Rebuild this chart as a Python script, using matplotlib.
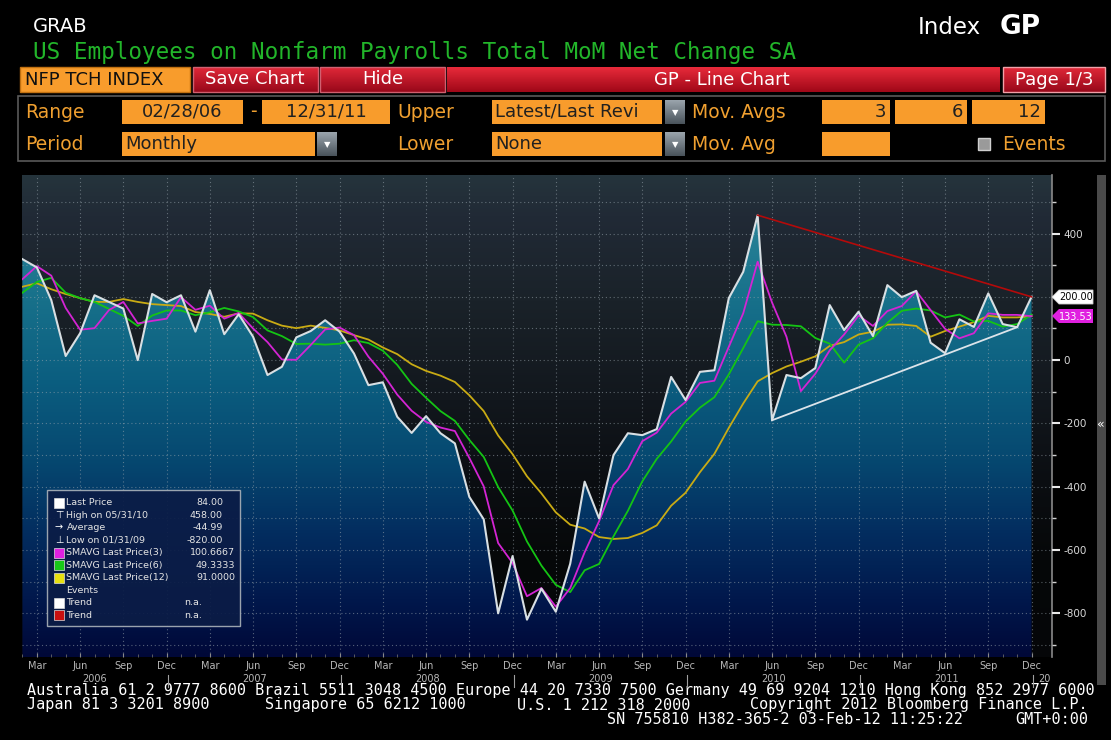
import numpy as np
import pandas as pd
import matplotlib
matplotlib.use("Agg")
import matplotlib.pyplot as plt
from matplotlib.patches import Rectangle, Polygon
from matplotlib.colors import LinearSegmentedColormap
from matplotlib.ticker import FixedLocator, MultipleLocator, FuncFormatter

plt.rcParams["axes.unicode_minus"] = False

# ---------------- data ----------------
months = pd.date_range("2006-02-28", "2011-12-31", freq="ME")

payrolls = [319, 293, 190, 13, 85, 205, 184, 163, 0, 209, 183,
            205, 90, 221, 82, 145, 74, -47, -21, 72, 92, 126, 90,
            21, -79, -70, -179, -230, -177, -231, -263, -432, -503, -800, -619,
            -820, -722, -795, -643, -384, -500, -300, -231, -237, -218, -53, -126,
            -37, -32, 196, 279, 458, -190, -47, -57, -25, 174, 95, 153,
            76, 237, 199, 219, 55, 22, 129, 105, 211, 114, 104, 200]

sma3 = [256, 297, 267, 165, 96, 101, 158, 184, 116, 124, 131,
        199, 159, 172, 131, 149, 100, 57, 2, 1, 48, 97, 103,
        79, 11, -43, -109, -160, -195, -213, -224, -309, -399, -578, -641,
        -746, -720, -779, -720, -607, -509, -395, -344, -256, -229, -169, -132,
        -72, -65, 42, 148, 311, 182, 74, -98, -43, 31, 81, 141,
        108, 155, 171, 218, 158, 99, 69, 85, 148, 143, 143, 139]

sma6 = [213, 247, 260, 213, 196, 184, 162, 140, 108, 141, 157,
        157, 142, 151, 165, 154, 136, 94, 76, 51, 52, 49, 52,
        63, 54, 30, -15, -75, -119, -161, -192, -252, -306, -401, -475,
        -573, -649, -710, -733, -664, -644, -557, -476, -383, -312, -257, -194,
        -150, -117, -45, 38, 123, 112, 111, 107, 70, 52, -8, 49,
        69, 118, 156, 163, 157, 135, 144, 122, 124, 106, 114, 144]

sma12 = [232, 243, 224, 209, 196, 184, 184, 193, 184, 177, 174,
         171, 152, 146, 137, 148, 147, 126, 109, 101, 109, 102, 94,
         79, 65, 40, 19, -13, -34, -49, -69, -111, -161, -238, -297,
         -367, -421, -481, -520, -532, -559, -565, -562, -546, -522, -460, -419,
         -354, -296, -214, -137, -67, -41, -20, -5, 12, 45, 57, 81,
         90, 112, 113, 108, 74, 92, 106, 120, 140, 135, 135, 139]

trend_high_dates = ["2010-05-31", "2011-12-31"]
trend_high_vals = [458, 200]
trend_low_dates = ["2010-06-30", "2011-11-30"]
trend_low_vals = [-190, 104]

legend_labels = ["Last Price", "High on 05/31/10", "Average", "Low on 01/31/09",
                 "SMAVG Last Price(3)", "SMAVG Last Price(6)", "SMAVG Last Price(12)",
                 "Events", "Trend", "Trend"]
legend_values = ["84.00", "458.00", "-44.99", "-820.00", "100.6667", "49.3333",
                 "91.0000", "", "n.a.", "n.a."]
legend_colors = ["#ffffff", None, None, None, "#e020e0", "#18c818", "#e8e010",
                 None, "#ffffff", "#c81010"]
legend_symbols = [None, "\u22a4", "\u2192", "\u22a5", None, None, None, None, None, None]

last_price_label = "200.00"
last_sma3_label = "133.53"

# ---------------- figure ----------------
W, H = 1111, 740
fig = plt.figure(figsize=(W / 100, H / 100), dpi=100, facecolor="black")

NARROW = ["Liberation Sans Narrow", "DejaVu Sans"]
MONO = ["DejaVu Sans Mono"]

ax_bg = fig.add_axes([0, 0, 1, 1], zorder=0)
ax_bg.set_xlim(0, W)
ax_bg.set_ylim(H, 0)
ax_bg.axis("off")


def grad_rect(ax, x0, y0, x1, y1, ctop, cbot, edge=None):
    cm = LinearSegmentedColormap.from_list("g", [ctop, cbot])
    arr = np.linspace(0, 1, 32).reshape(-1, 1)
    ax.imshow(arr, cmap=cm, extent=[x0, x1, y1, y0], origin="upper",
              aspect="auto", interpolation="bilinear", zorder=1)
    if edge:
        ax.add_patch(Rectangle((x0, y0), x1 - x0, y1 - y0, fill=False,
                               edgecolor=edge, lw=1, zorder=2))


# header
ax_bg.text(33, 27, "GRAB", color="white", fontsize=14, family=NARROW, va="center")
ax_bg.text(918, 27, "Index", color="white", fontsize=16.5, family=NARROW, va="center")
ax_bg.text(1000, 27, "GP", color="white", fontsize=19, family=NARROW,
           fontweight="bold", va="center")
ax_bg.text(33, 53, "US Employees on Nonfarm Payrolls Total MoM Net Change SA",
           color="#22b52a", fontsize=16.3, family=MONO, va="center")

# red toolbar
ORANGE = "#f89c2c"
ax_bg.add_patch(Rectangle((20, 67), 170, 25, facecolor=ORANGE, edgecolor="#c07010", zorder=2))
ax_bg.text(25, 80, "NFP TCH INDEX", color="#101010", fontsize=13, family=NARROW,
           va="center", zorder=3)
grad_rect(ax_bg, 193, 67, 318, 92, "#e02838", "#98081a", edge="#d06070")
grad_rect(ax_bg, 320, 67, 445, 92, "#e02838", "#98081a", edge="#d06070")
grad_rect(ax_bg, 447, 67, 1000, 92, "#e82a3a", "#a00818")
grad_rect(ax_bg, 1003, 67, 1105, 92, "#e02838", "#98081a", edge="#f0a0a8")
ax_bg.text(255, 79, "Save Chart", color="white", fontsize=13, family=NARROW,
           ha="center", va="center", zorder=3)
ax_bg.text(383, 79, "Hide", color="white", fontsize=13, family=NARROW,
           ha="center", va="center", zorder=3)
ax_bg.text(722, 80, "GP - Line Chart", color="white", fontsize=13, family=NARROW,
           ha="center", va="center", zorder=3)
ax_bg.text(1054, 80, "Page 1/3", color="white", fontsize=13, family=NARROW,
           ha="center", va="center", zorder=3)

# settings panel
ax_bg.add_patch(Rectangle((18, 96), 1087, 65, fill=False, edgecolor="#5a5a5a", lw=1.2))
LBL = "#f0a030"


def obox(x0, x1, yc, text="", align="center", tx=None):
    ax_bg.add_patch(Rectangle((x0, yc - 12), x1 - x0, 24, facecolor=ORANGE,
                              edgecolor="none", zorder=2))
    if text:
        if tx is None:
            tx = (x0 + x1) / 2 if align == "center" else (x0 + 3 if align == "left" else x1 - 4)
        ax_bg.text(tx, yc, text, color="#202020", fontsize=13, family=NARROW,
                   ha=align, va="center", zorder=3)


def dropdown(x0, yc):
    grad_rect(ax_bg, x0, yc - 12, x0 + 20, yc + 12, "#9aa4ac", "#4a545c")
    ax_bg.text(x0 + 10, yc + 1, "\u25bc", color="white", fontsize=6,
               ha="center", va="center", zorder=3)


r1, r2 = 112, 144
ax_bg.text(25, r1, "Range", color=LBL, fontsize=13.5, family=NARROW, va="center")
obox(122, 243, r1, "02/28/06")
ax_bg.text(253, r1, "-", color=LBL, fontsize=13.5, family=NARROW, va="center", ha="center")
obox(262, 390, r1, "12/31/11")
ax_bg.text(397, r1, "Upper", color=LBL, fontsize=13.5, family=NARROW, va="center")
obox(492, 662, r1, "Latest/Last Revi", align="left")
dropdown(665, r1)
ax_bg.text(692, r1, "Mov. Avgs", color=LBL, fontsize=13.5, family=NARROW, va="center")
obox(822, 890, r1, "3", align="right")
obox(895, 967, r1, "6", align="right")
obox(972, 1045, r1, "12", align="right")

ax_bg.text(25, r2, "Period", color=LBL, fontsize=13.5, family=NARROW, va="center")
obox(122, 315, r2, "Monthly", align="left")
dropdown(317, r2)
ax_bg.text(397, r2, "Lower", color=LBL, fontsize=13.5, family=NARROW, va="center")
obox(492, 662, r2, "None", align="left")
dropdown(665, r2)
ax_bg.text(692, r2, "Mov. Avg", color=LBL, fontsize=13.5, family=NARROW, va="center")
obox(822, 890, r2)
ax_bg.add_patch(Rectangle((978, 138), 12, 12, facecolor="#9a9a9a", edgecolor="#cfcfcf", zorder=2))
ax_bg.text(1002, r2, "Events", color=LBL, fontsize=13.5, family=NARROW, va="center")

# footer
FOOT = dict(color="white", fontsize=10.87, family=MONO, va="center")
ax_bg.text(27, 691, "Australia 61 2 9777 8600 Brazil 5511 3048 4500 Europe 44 20 7330 7500 "
           "Germany 49 69 9204 1210 Hong Kong 852 2977 6000", **FOOT)
ax_bg.text(27, 705, "Japan 81 3 3201 8900", **FOOT)
ax_bg.text(265, 705, "Singapore 65 6212 1000", **FOOT)
ax_bg.text(517, 705, "U.S. 1 212 318 2000", **FOOT)
ax_bg.text(1088, 705, "Copyright 2012 Bloomberg Finance L.P.", ha="right", **FOOT)
ax_bg.text(607, 719, "SN 755810 H382-365-2 03-Feb-12 11:25:22", **FOOT)
ax_bg.text(1088, 719, "GMT+0:00", ha="right", **FOOT)

# scrollbar
ax_bg.add_patch(Rectangle((1097, 175), 9, 510, facecolor="#4a4a4a", edgecolor="none"))
ax_bg.text(1101, 424, "\u00ab", color="white", fontsize=9, ha="center", va="center")

# ---------------- main chart ----------------
ax_l, ax_r, ax_t, ax_b = 22, 1052, 175, 657
ax = fig.add_axes([ax_l / W, 1 - ax_b / H, (ax_r - ax_l) / W, (ax_b - ax_t) / H], zorder=1)
x = np.arange(len(months))
XMIN, XMAX = -0.03, 71.42
YMIN, YMAX = -938, 585
ax.set_xlim(XMIN, XMAX)
ax.set_ylim(YMIN, YMAX)
ax.set_facecolor("#070809")

bg_cmap = LinearSegmentedColormap.from_list("bg", [
    (0.0, "#050608"), (0.2, "#060809"), (0.367, "#0b0e12"), (0.533, "#12171d"),
    (0.74, "#1a2229"), (0.917, "#212a36"), (1.0, "#25343c")])
ax.imshow(np.linspace(0, 1, 256).reshape(-1, 1), cmap=bg_cmap, origin="lower",
          extent=[XMIN, XMAX, YMIN, YMAX], aspect="auto", zorder=0)

fill_cmap = LinearSegmentedColormap.from_list("fill", [
    (0.0, "#000838"), (0.118, "#01184c"), (0.263, "#032e60"), (0.409, "#064870"),
    (0.575, "#0b5e80"), (0.74, "#17708a"), (0.917, "#2a8499"), (1.0, "#3292a4")])
im = ax.imshow(np.linspace(0, 1, 256).reshape(-1, 1), cmap=fill_cmap, origin="lower",
               extent=[XMIN, XMAX, YMIN, YMAX], aspect="auto", zorder=1)
verts = [(x[0], YMIN)] + list(zip(x, payrolls)) + [(x[-1], YMIN)]
poly = Polygon(verts, closed=True, facecolor="none", edgecolor="none", transform=ax.transData)
ax.add_patch(poly)
im.set_clip_path(poly)

# axes ticks / grid
quarter_idx = [i for i, d in enumerate(months) if d.month in (3, 6, 9, 12)]
ax.xaxis.set_major_locator(FixedLocator(quarter_idx))
ax.xaxis.set_minor_locator(FixedLocator(list(x)))
ax.set_xticklabels([months[i].strftime("%b") for i in quarter_idx])
ax.yaxis.set_major_locator(MultipleLocator(200))
ax.yaxis.set_minor_locator(MultipleLocator(100))
# the 200 label sits under the last-price tag, so it is left blank as in the original
ax.yaxis.set_major_formatter(FuncFormatter(lambda v, p: "" if abs(v - 200) < 1 else f"{v:.0f}"))
ax.yaxis.tick_right()
ax.tick_params(axis="y", which="major", colors="#e8e8e8", length=6, width=1.5,
               labelsize=7.5, labelcolor="#d8d8d8", pad=2)
ax.tick_params(axis="y", which="minor", colors="#d0d0d0", length=3, width=1)
ax.tick_params(axis="x", which="major", colors="#8a8a8a", length=3, direction="in",
               labelsize=7, labelcolor="#b8b8b8", pad=3)
ax.tick_params(axis="x", which="minor", colors="#6a6a6a", length=2, direction="in")
for lab in ax.get_xticklabels():
    lab.set_family(NARROW)
ax.grid(False)
ax.xaxis.grid(True, which="major", color="#9aa6ae", linestyle=(0, (1, 2.5)), lw=0.8, alpha=0.55)
ax.yaxis.grid(True, which="both", color="#9aa6ae", linestyle=(0, (1, 2.5)), lw=0.8, alpha=0.55)
ax.set_axisbelow(False)
for gl in ax.get_xgridlines() + ax.get_ygridlines():
    gl.set_zorder(2)
for side in ("top", "left", "bottom"):
    ax.spines[side].set_visible(False)
ax.spines["right"].set_color("#8a8a8a")
ax.spines["right"].set_linewidth(1.2)

# lines
ax.plot(x, sma12, color="#c9ab14", lw=1.3, zorder=4)
ax.plot(x, sma6, color="#14c414", lw=1.3, zorder=4)
ax.plot(x, sma3, color="#d424d4", lw=1.3, zorder=5)
ax.plot(x, payrolls, color="#d8dfe3", lw=1.5, zorder=6)

pos = {d.strftime("%Y-%m-%d"): i for i, d in enumerate(months)}
ax.plot([pos[d] for d in trend_high_dates], trend_high_vals, color="#b40a0a", lw=1.2, zorder=7)
ax.plot([pos[d] for d in trend_low_dates], trend_low_vals, color="#dce4ea", lw=1.3, zorder=7)

# year labels and separators
xt = ax.get_xaxis_transform()
dec_idx = [i for i, d in enumerate(months) if d.month == 12]
bounds = [XMIN] + [i + 0.1 for i in dec_idx]
years = sorted(set(d.year for d in months))
for k, yr in enumerate(years):
    xc = (bounds[k] + bounds[k + 1]) / 2
    ax.text(xc, -0.046, str(yr), transform=xt, color="#b8b8b8", fontsize=7,
            family=NARROW, ha="center", va="center", clip_on=False)
for b in bounds[1:]:
    ax.plot([b, b], [-0.037, -0.062], transform=xt, color="#a0a0a0", lw=0.8, clip_on=False)
ax.text(bounds[-1] + 0.35, -0.046, "20", transform=xt, color="#b8b8b8", fontsize=7,
        family=NARROW, ha="left", va="center", clip_on=False)

# ---------------- overlay ----------------
ax_top = fig.add_axes([0, 0, 1, 1], zorder=5)
ax_top.set_xlim(0, W)
ax_top.set_ylim(H, 0)
ax_top.axis("off")

# value tags on right axis
ax_top.add_patch(Polygon([(1052, 297), (1059, 290), (1093, 290), (1093, 304), (1059, 304)],
                         closed=True, facecolor="white", edgecolor="#cccccc", lw=0.6))
ax_top.text(1076, 297.5, last_price_label, color="black", fontsize=7, ha="center", va="center")
ax_top.add_patch(Polygon([(1052, 316), (1059, 309), (1093, 309), (1093, 323), (1059, 323)],
                         closed=True, facecolor="#e020e0", edgecolor="none"))
ax_top.text(1076, 316.5, last_sma3_label, color="white", fontsize=7, ha="center", va="center")

# legend box
ax_top.add_patch(Rectangle((47, 490), 193, 136, facecolor="#0b1c46", edgecolor="#a8b0b8",
                           lw=1.0, alpha=0.92))
for k, (lab, val) in enumerate(zip(legend_labels, legend_values)):
    yy = 502.7 + k * 12.5
    c = legend_colors[k]
    if c:
        ax_top.add_patch(Rectangle((54, yy - 5), 10, 10, facecolor=c, edgecolor="#dddddd", lw=0.5))
    sym = legend_symbols[k]
    if sym:
        ax_top.text(59, yy, sym, color="white", fontsize=7, ha="center", va="center")
    ax_top.text(66.5, yy, lab, color="#e4e4e4", fontsize=6.8, va="center")
    if val:
        if val == "n.a.":
            xr = 202
        elif len(val.split(".")[1]) == 4:
            xr = 235
        else:
            xr = 223
        ax_top.text(xr, yy, val, color="#e4e4e4", fontsize=6.8, ha="right", va="center")

fig.savefig("out.png", dpi=100, facecolor="black")
